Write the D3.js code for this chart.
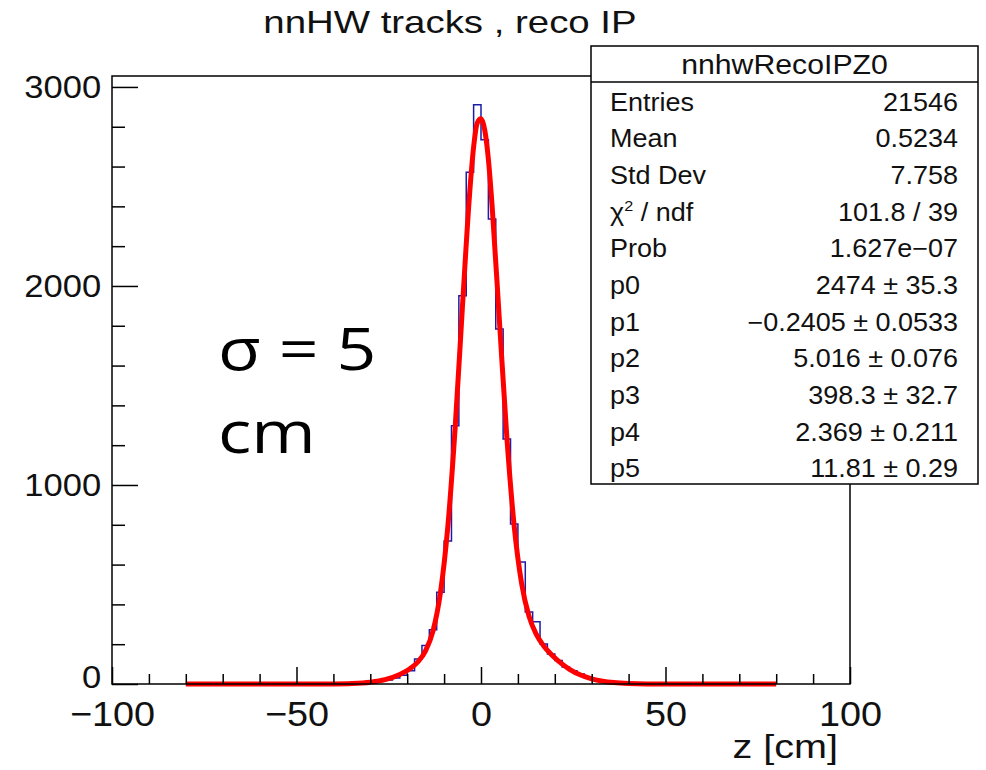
<!DOCTYPE html>
<html><head><meta charset="utf-8">
<script src="https://cdn.jsdelivr.net/npm/d3@7"></script>
<style>body{margin:0;background:#fff}</style>
</head><body><svg id="c" width="986" height="770"></svg>
<script>
// ---- data ----
const binWidth = 2;
const binLow = [-44,-42,-40,-38,-36,-34,-32,-30,-28,-26,-24,-22,-20,-18,-16,-14,-12,-10,-8,-6,-4,-2,
                0,2,4,6,8,10,12,14,16,18,20,22,24,26,28,30,32,34,36,38,40,42,44];
const counts = [1,1,1,2,3,4,6,10,14,20,30,44,67,126,193,273,461,718,1298,1951,2571,2911,
                2735,2337,1784,1231,804,613,362,313,201,151,118,85,66,50,31,22,15,9,6,3,2,1,1];
const fitX = [-80,-60,-45,-40,-35,-30,-26,-22,-19,-17,-15,-13,-11,-9,-7,-5,-3,-2,-1,0,1,2,3,5,7,9,11,13,15,17,19,21,24,27,30,33,36,40,45,60,80];
const fitY = [0,0,0.1,0.5,2.6,9.3,22,48,80,113,168,267,458,789,1288,1905,2485,2698,2820,2840,2785,2637,2406,1823,1241,793,506,341,249,191,149,115,74,45,26,14,7,2.5,0.6,0,0];
const xMajorTicks = [-100,-50,0,50,100];
const xMinorTicks = [-90,-80,-70,-60,-40,-30,-20,-10,10,20,30,40,60,70,80,90];
const yMajorTicks = [0,1000,2000,3000];
const yMinorTicks = [200,400,600,800,1200,1400,1600,1800,2200,2400,2600,2800];
const statLabels = ["Entries","Mean","Std Dev","χ2 / ndf","Prob","p0","p1","p2","p3","p4","p5"];
const statValues = ["21546","0.5234","7.758","101.8 / 39","1.627e\u221207","2474 \u00b1 35.3","\u22120.2405 \u00b1 0.0533","5.016 \u00b1 0.076","398.3 \u00b1 32.7","2.369 \u00b1 0.211","11.81 \u00b1 0.29"];

// ---- layout ----
const svg = d3.select("#c");
const L = 112, R = 850, T = 76, B = 684;
const x = d3.scaleLinear().domain([-100,100]).range([L,R]);
const y = d3.scaleLinear().domain([0,3055]).range([B,T]);
const FONT = "'Liberation Sans', Arial, Helvetica, sans-serif";
const SX = 1.08;

// histogram step outline
const pts = [];
binLow.forEach((b,i)=>{ pts.push([b, counts[i]]); });
pts.unshift([binLow[0], 0]);
pts.push([binLow[binLow.length-1]+binWidth, counts[counts.length-1]]);
pts.push([binLow[binLow.length-1]+binWidth, 0]);
const step = d3.line().x(d=>x(d[0])).y(d=>y(d[1])).curve(d3.curveStepAfter);
svg.append("path").attr("d", step(pts)).attr("fill","none")
  .attr("stroke","#1c1ca8").attr("stroke-width",1.5);

// fit curve
const fitLine = d3.line().x((d,i)=>x(fitX[i])).y(d=>y(d)).curve(d3.curveMonotoneX);
svg.append("path").attr("d", fitLine(fitY)).attr("fill","none")
  .attr("stroke","#ff0000").attr("stroke-width",5).attr("stroke-linejoin","round");

// frame
svg.append("rect").attr("x",L).attr("y",T).attr("width",R-L).attr("height",B-T)
  .attr("fill","none").attr("stroke","#000").attr("stroke-width",1.5);

function styleAxis(g, size){
  g.select(".domain").remove();
  g.selectAll("line").attr("stroke","#000").attr("stroke-width",1.5);
  g.selectAll("text").attr("font-family",FONT).attr("font-size",size).attr("fill","#111");
}
// x axis
const gxMaj = svg.append("g").attr("transform",`translate(0,${B})`)
  .call(d3.axisBottom(x).tickValues(xMajorTicks).tickSize(-17).tickPadding(17)
        .tickFormat(d=>d<0?"\u2212"+Math.abs(d):d));
styleAxis(gxMaj, 35);
gxMaj.selectAll("text").attr("transform",`scale(${SX},1)`);
const gxMin = svg.append("g").attr("transform",`translate(0,${B})`)
  .call(d3.axisBottom(x).tickValues(xMinorTicks).tickSize(-10).tickFormat(""));
styleAxis(gxMin, 10);
// y axis
const gyMaj = svg.append("g").attr("transform",`translate(${L},0)`)
  .call(d3.axisLeft(y).tickValues(yMajorTicks).tickSize(-26).tickPadding(10).tickFormat(d3.format("d")));
styleAxis(gyMaj, 32);
gyMaj.selectAll("text").attr("transform",`scale(${SX},1)`);
gyMaj.selectAll(".tick").filter(d=>d===0).select("text").attr("dy","0.1em");
const gyMin = svg.append("g").attr("transform",`translate(${L},0)`)
  .call(d3.axisLeft(y).tickValues(yMinorTicks).tickSize(-13).tickFormat(""));
styleAxis(gyMin, 10);

function txt(str, tx, ty, size, anchor, sx){
  return svg.append("text").attr("transform",`translate(${tx},${ty}) scale(${sx||SX},1)`)
    .attr("text-anchor",anchor||"start").attr("font-family",FONT).attr("font-size",size)
    .attr("fill","#111").text(str);
}
// title
txt("nnHW tracks , reco IP", 450, 33, 32, "middle", 1.2);
// x title
txt("z [cm]", 838, 758, 33, "end", 1.2);

// stats box
const bx0 = 591, bx1 = 978, by0 = 46, by1 = 484, hdr = 82;
svg.append("rect").attr("x",bx0).attr("y",by0).attr("width",bx1-bx0).attr("height",by1-by0)
  .attr("fill","#fff").attr("stroke","#000").attr("stroke-width",1.5);
svg.append("line").attr("x1",bx0).attr("x2",bx1).attr("y1",hdr).attr("y2",hdr)
  .attr("stroke","#000").attr("stroke-width",1.5);
txt("nnhwRecoIPZ0", (bx0+bx1)/2, 74, 27, "middle", 1.12);
const rowH = 36.65;
statLabels.forEach((lab,i)=>{
  const cy = 101.7 + i*rowH + 9;
  if(lab==="χ2 / ndf"){
    const t = svg.append("text").attr("transform",`translate(610,${cy}) scale(${SX},1)`)
      .attr("font-family",FONT).attr("font-size",25).attr("fill","#111");
    t.append("tspan").text("\u03c7");
    t.append("tspan").attr("font-size",15).attr("dy",-10).text("2");
    t.append("tspan").attr("dy",10).text(" / ndf");
  } else {
    txt(lab, 610, cy, 25, "start");
  }
  txt(statValues[i], 958, cy, 25, "end");
});

// annotation
const AFONT = "'Open Sans', 'Noto Sans', sans-serif";
svg.append("text").attr("transform","translate(218,370) scale(1.2,1)")
  .attr("font-family",AFONT).attr("font-size",58).attr("fill","#000").text("\u03c3 = 5");
svg.append("text").attr("transform","translate(218,453) scale(1.2,1)")
  .attr("font-family",AFONT).attr("font-size",58).attr("fill","#000").text("cm");
</script></body></html>
